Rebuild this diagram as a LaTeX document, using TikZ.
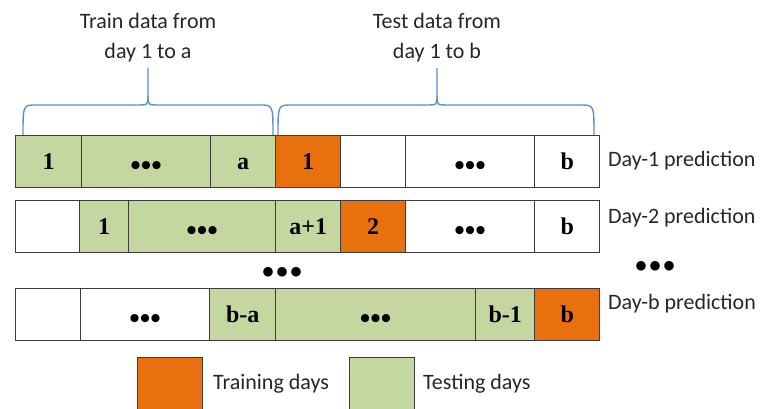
\documentclass[tikz,border=0pt]{standalone}
\usepackage{fontspec}
\setmainfont{Carlito}
\newfontfamily\numfont{Liberation Serif}
\definecolor{trainfill}{HTML}{E8700E}
\definecolor{testfill}{HTML}{C4D7A0}
\definecolor{cellline}{HTML}{3C3C3C}
\definecolor{bracecol}{HTML}{5B8ED6}
\definecolor{txtcol}{HTML}{262626}
\tikzset{
  cellbox/.style={draw=cellline, line width=1.4pt, minimum height=52pt,
    inner sep=0pt, text height=15pt, text depth=0pt, anchor=north west,
    font=\numfont\bfseries\fontsize{24}{26}\selectfont},
  lbl/.style={font=\fontsize{22}{30}\selectfont, text=txtcol, inner sep=0pt},
  bracepath/.style={draw=bracecol, line width=1.4pt},
  legendbox/.style={draw=cellline, line width=1.2pt, minimum width=65pt,
    minimum height=60pt, anchor=north west, inner sep=0pt},
}
% one day cell: name, left x, right x, top y, fill, text
\newcommand\daycell[6]{%
  \node[cellbox, fill=#5, minimum width={#3-#2}] (#1) at (#2,#4) {#6};}
\newcommand\celldots{\raisebox{-6pt}{\fontsize{30}{30}\selectfont •••}}
\begin{document}
\begin{tikzpicture}[x=1pt,y=-1pt]
  \useasboundingbox (0,0) rectangle (764,408);

  % Day-1 row
  \daycell{a1}{15}{81}{135}{testfill}{1}
  \daycell{a2}{81}{210}{135}{testfill}{\celldots}
  \daycell{a3}{210}{275}{135}{testfill}{a}
  \daycell{a4}{275}{340}{135}{trainfill}{1}
  \daycell{a5}{340}{405}{135}{white}{}
  \daycell{a6}{405}{534}{135}{white}{\celldots}
  \daycell{a7}{534}{599}{135}{white}{b}

  % Day-2 row
  \daycell{b1}{15}{79}{200}{white}{}
  \daycell{b2}{79}{128}{200}{testfill}{1}
  \daycell{b3}{128}{275}{200}{testfill}{\celldots}
  \daycell{b4}{275}{340}{200}{testfill}{a+1}
  \daycell{b5}{340}{405}{200}{trainfill}{2}
  \daycell{b6}{405}{534}{200}{white}{\celldots}
  \daycell{b7}{534}{599}{200}{white}{b}

  % Day-b row
  \daycell{c1}{15}{80}{288}{white}{}
  \daycell{c2}{80}{209}{288}{white}{\celldots}
  \daycell{c3}{209}{275}{288}{testfill}{b-a}
  \daycell{c4}{275}{475}{288}{testfill}{\celldots}
  \daycell{c5}{475}{534}{288}{testfill}{b-1}
  \daycell{c6}{534}{599}{288}{trainfill}{b}

  % rows left out
  \node[font=\numfont\fontsize{40}{40}\selectfont, inner sep=0pt] (rowdots) at (283,276) {•••};
  \node[font=\numfont\fontsize{40}{40}\selectfont, inner sep=0pt] (labdots) at (656,270) {•••};

  % row labels
  \node[lbl, anchor=west] (p1) at (608,161) {Day-1 prediction};
  \node[lbl, anchor=west] (p2) at (608,218) {Day-2 prediction};
  \node[lbl, anchor=west] (pb) at (608,304) {Day-b prediction};

  % braces over the train and test spans
  \draw[bracepath] (23,135) .. controls (23,105) .. (36,105) -- (136,105)
    .. controls (148,105) .. (148,96) -- (148,68);
  \draw[bracepath] (273,135) .. controls (273,105) .. (260,105) -- (160,105)
    .. controls (148,105) .. (148,96);
  \draw[bracepath] (278,135) .. controls (278,105) .. (291,105) -- (425,105)
    .. controls (437,105) .. (437,96) -- (437,68);
  \draw[bracepath] (594,135) .. controls (594,105) .. (581,105) -- (449,105)
    .. controls (437,105) .. (437,96);

  \node[lbl, align=center] (trainlbl) at (148,38) {Train data from\\day 1 to a};
  \node[lbl, align=center] (testlbl) at (437,38) {Test data from\\day 1 to b};

  % legend
  \node[legendbox, fill=trainfill] (legtrain) at (137,357) {};
  \node[lbl, anchor=west] (legtraintxt) at (213,384) {Training days};
  \node[legendbox, fill=testfill] (legtest) at (349,357) {};
  \node[lbl, anchor=west] (legtesttxt) at (423,384) {Testing days};
\end{tikzpicture}
\end{document}
